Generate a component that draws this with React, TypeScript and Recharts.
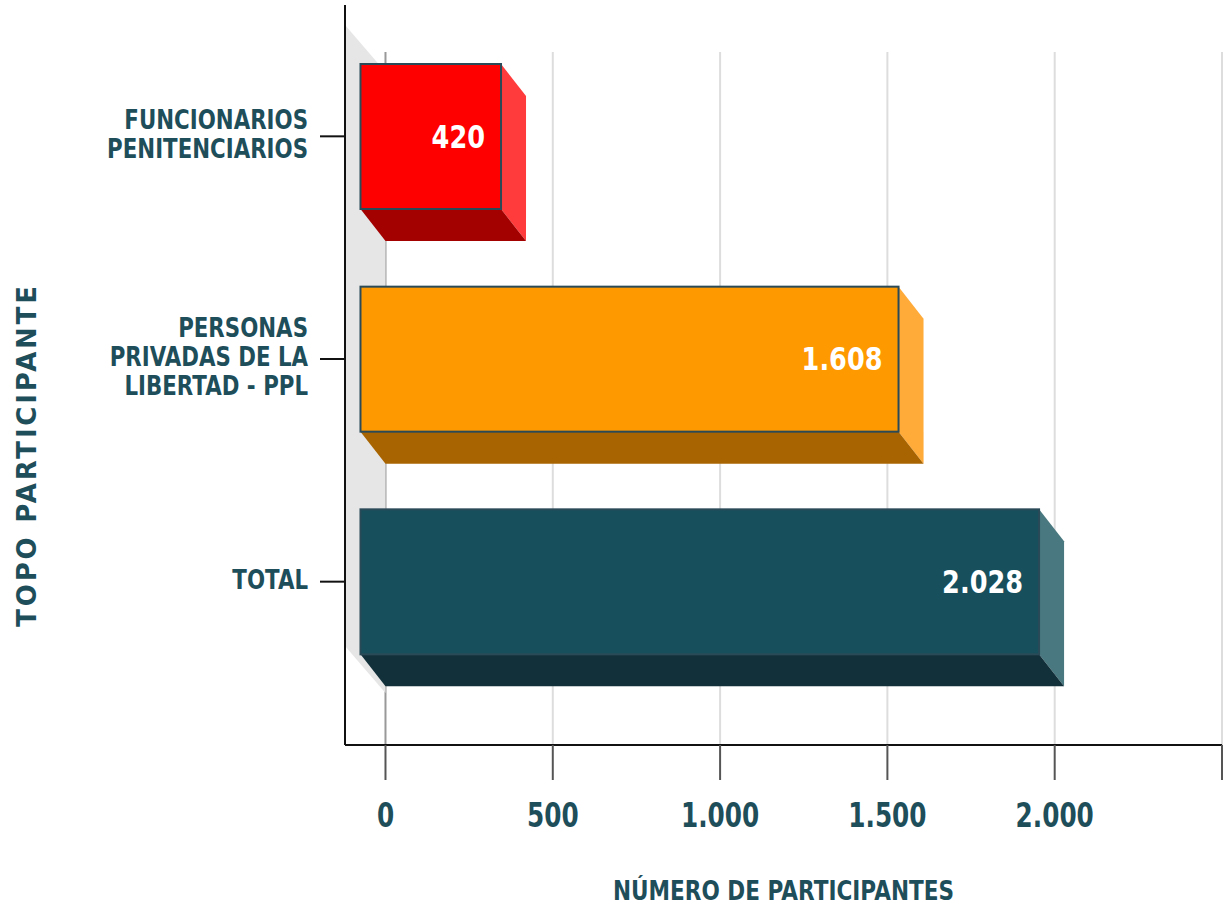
import React from "react";
import { BarChart, Bar, XAxis, YAxis, CartesianGrid, ReferenceArea } from "recharts";

const categories = [
  "FUNCIONARIOS\nPENITENCIARIOS",
  "PERSONAS\nPRIVADAS DE LA\nLIBERTAD - PPL",
  "TOTAL",
];
const participants = [420, 1608, 2028];
const xTicks = [0, 500, 1000, 1500, 2000, 2500];
const hiddenTickLabels = [2500];
const frontColors = ["#ff0000", "#ff9900", "#174f5c"];
const sideColors = ["#ff3b3b", "#ffab3a", "#4a7880"];
const bottomColors = ["#a30000", "#a86400", "#11303a"];

const xTitle = "NÚMERO DE PARTICIPANTES";
const yTitle = "TOPO PARTICIPANTE";

const data = categories.map((name, i) => ({ name, value: participants[i] }));

const TEXT = "#1e4e5a";
const FONT = "DejaVu Sans";
const DX = 25;
const DY = 32;

const fmt = (n: number) => String(n).replace(/\B(?=(\d{3})+(?!\d))/g, ".");

const Bar3D = (props: any) => {
  const { x, y, width, height, payload } = props;
  const i = categories.indexOf(payload.name);
  const fx = x - DX;
  const fy = y;
  return (
    <g>
      <polygon
        points={`${fx + width},${fy} ${x + width},${fy + DY} ${x + width},${fy + height + DY} ${fx + width},${fy + height}`}
        fill={sideColors[i]}
      />
      <polygon
        points={`${fx},${fy + height} ${fx + width},${fy + height} ${x + width},${fy + height + DY} ${x},${fy + height + DY}`}
        fill={bottomColors[i]}
      />
      <rect x={fx} y={fy} width={width} height={height} fill={frontColors[i]} stroke="#2a4a58" strokeWidth={2} />
      <text
        transform={`translate(${fx + width - 16},${fy + height / 2}) scale(0.8,1)`}
        textAnchor="end"
        dominantBaseline="central"
        fill="#ffffff"
        fontSize={32}
        fontWeight="bold"
        fontFamily={FONT}
      >
        {fmt(payload.value)}
      </text>
    </g>
  );
};

const WallShape = (props: any) => {
  const { x, y, width, height } = props;
  return (
    <polygon
      points={`${x},${y} ${x + width},${y + 47} ${x + width},${y + height} ${x},${y + height - 47}`}
      fill="#e6e6e6"
    />
  );
};

const gridLine = (props: any) => {
  const { x1, y1, x2, y2, index } = props;
  return (
    <line
      key={`vg-${index}`}
      x1={x1}
      x2={x2}
      y1={y1 + 47}
      y2={y2}
      stroke={index === 0 ? "#999999" : "#dddddd"}
      strokeWidth={2}
    />
  );
};

const XTick = (props: any) => {
  const { x, y, payload } = props;
  if (hiddenTickLabels.includes(payload.value)) return null;
  return (
    <text
      transform={`translate(${x},${y}) scale(0.75,1)`}
      textAnchor="middle"
      fill={TEXT}
      fontSize={33}
      fontWeight="bold"
      fontFamily={FONT}
    >
      {fmt(payload.value)}
    </text>
  );
};

const YTick = (props: any) => {
  const { x, y, payload } = props;
  const lines = String(payload.value).split("\n");
  const n = lines.length;
  return (
    <g>
      {lines.map((line, k) => (
        <text
          key={k}
          transform={`translate(${x},${y + (k - (n - 1) / 2) * 29 + 7}) scale(0.79,1)`}
          textAnchor="end"
          fill={TEXT}
          fontSize={27}
          fontWeight="bold"
          fontFamily={FONT}
        >
          {line}
        </text>
      ))}
    </g>
  );
};

const XTitle = (props: any) => {
  const vb = props.viewBox || {};
  const cx = vb.x + vb.width / 2;
  const by = vb.y + 155;
  return (
    <text
      transform={`translate(${cx},${by}) scale(0.8,1)`}
      textAnchor="middle"
      fill={TEXT}
      fontSize={27}
      fontWeight="bold"
      fontFamily={FONT}
    >
      {xTitle}
    </text>
  );
};

const YTitle = (props: any) => {
  const vb = props.viewBox || {};
  const cx = vb.x + 27;
  const cy = vb.y + 450;
  return (
    <text
      transform={`translate(${cx},${cy}) rotate(-90)`}
      textAnchor="middle"
      dominantBaseline="central"
      fill={TEXT}
      fontSize={26}
      fontWeight="bold"
      fontFamily={FONT}
      letterSpacing={2.8}
    >
      {yTitle}
    </text>
  );
};

export default function App() {
  return (
    <div style={{ position: "absolute", left: 0, top: 0, width: 1229, height: 908, background: "#ffffff" }}>
      <BarChart
        width={1229}
        height={908}
        data={data}
        layout="vertical"
        margin={{ top: 5, right: 7, bottom: 0, left: 0 }}
        barSize={145}
      >
        <CartesianGrid horizontal={false} vertical={gridLine} />
        <ReferenceArea x1={-121} x2={0} shape={WallShape} ifOverflow="visible" />
        <XAxis
          type="number"
          domain={[-121, 2500]}
          allowDataOverflow
          ticks={xTicks}
          interval={0}
          height={163}
          tickSize={35}
          tickMargin={47}
          tick={<XTick />}
          axisLine={{ stroke: "#111111", strokeWidth: 2 }}
          tickLine={{ stroke: "#555555", strokeWidth: 2 }}
          label={<XTitle />}
        />
        <YAxis
          type="category"
          dataKey="name"
          width={345}
          padding={{ top: 20, bottom: 52 }}
          interval={0}
          tickSize={25}
          tickMargin={12}
          tick={<YTick />}
          axisLine={{ stroke: "#111111", strokeWidth: 2 }}
          tickLine={{ stroke: "#111111", strokeWidth: 2 }}
          label={<YTitle />}
        />
        <Bar dataKey="value" shape={Bar3D} isAnimationActive={false} />
      </BarChart>
    </div>
  );
}
